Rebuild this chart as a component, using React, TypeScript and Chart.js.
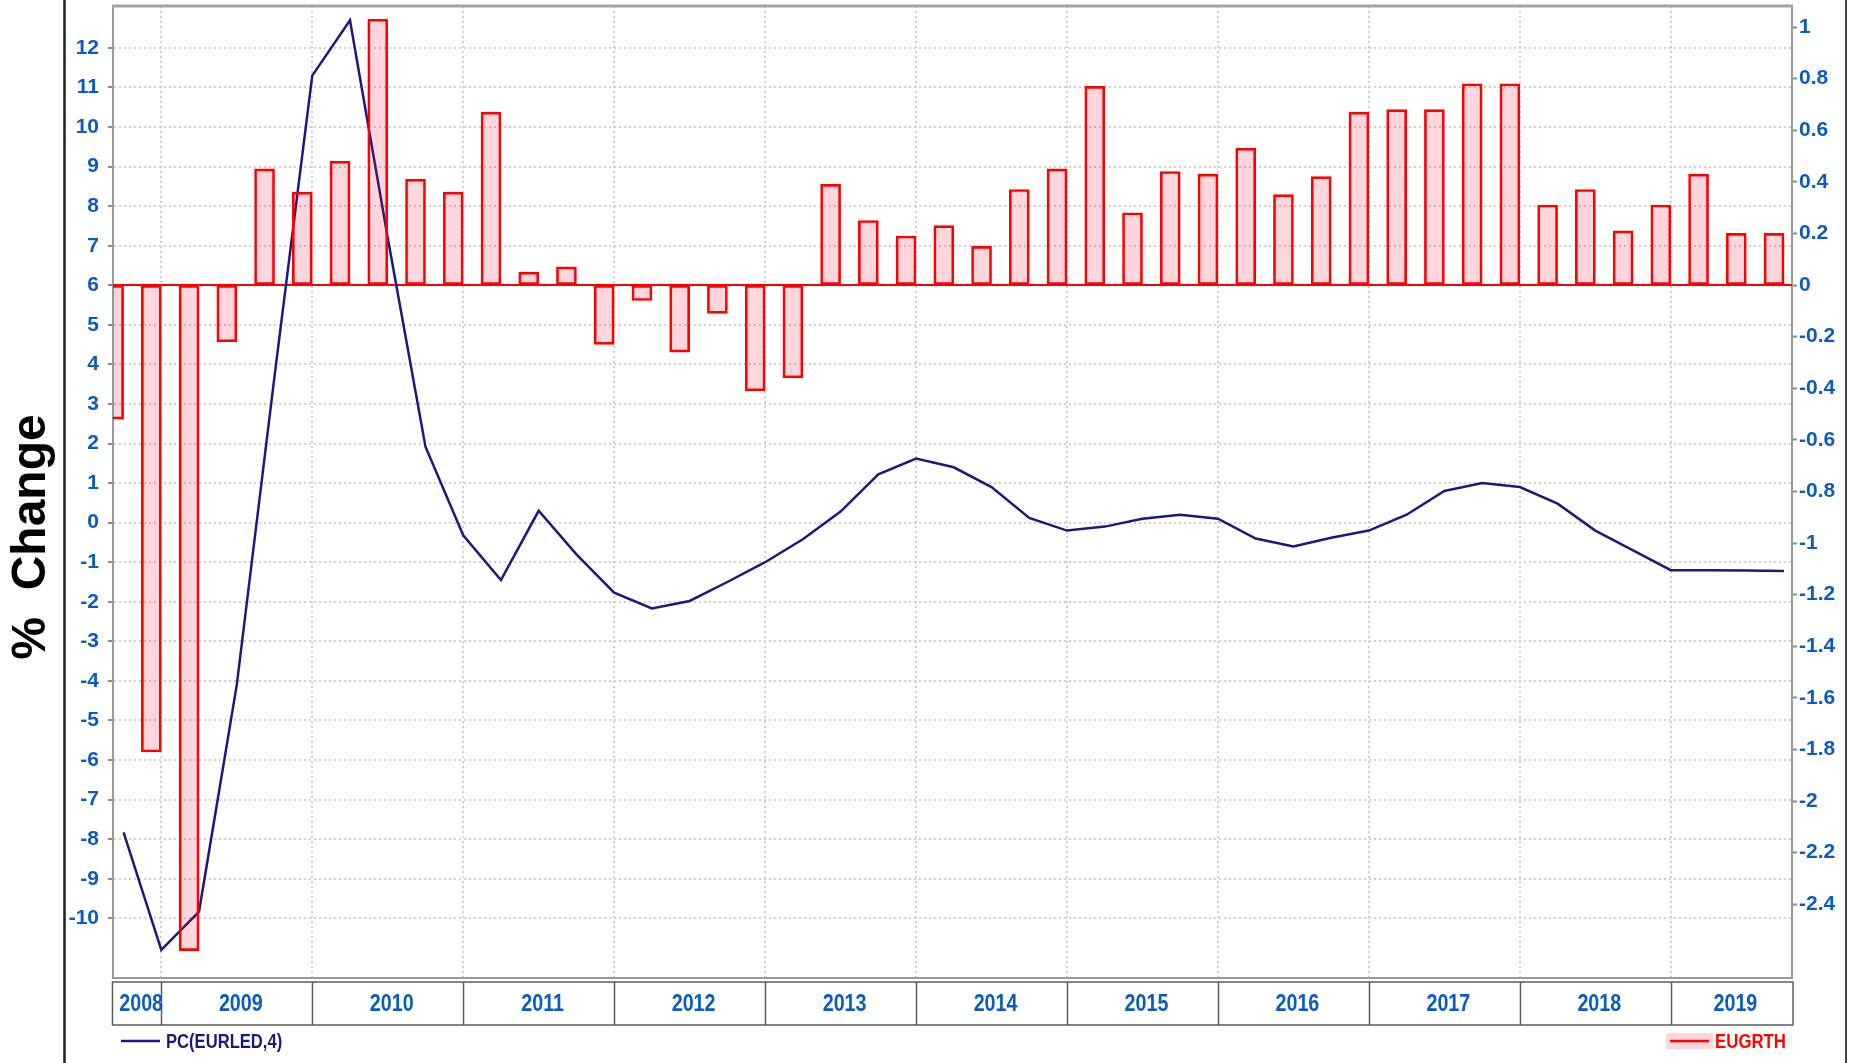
import React, { useEffect, useRef } from "react";
import { Chart, registerables } from "chart.js";

Chart.register(...registerables);

// ---------- data ----------
const quarters = [
  "2008 Q3", "2008 Q4",
  "2009 Q1", "2009 Q2", "2009 Q3", "2009 Q4",
  "2010 Q1", "2010 Q2", "2010 Q3", "2010 Q4",
  "2011 Q1", "2011 Q2", "2011 Q3", "2011 Q4",
  "2012 Q1", "2012 Q2", "2012 Q3", "2012 Q4",
  "2013 Q1", "2013 Q2", "2013 Q3", "2013 Q4",
  "2014 Q1", "2014 Q2", "2014 Q3", "2014 Q4",
  "2015 Q1", "2015 Q2", "2015 Q3", "2015 Q4",
  "2016 Q1", "2016 Q2", "2016 Q3", "2016 Q4",
  "2017 Q1", "2017 Q2", "2017 Q3", "2017 Q4",
  "2018 Q1", "2018 Q2", "2018 Q3", "2018 Q4",
  "2019 Q1", "2019 Q2", "2019 Q3",
];

// PC(EURLED,4) – left axis (% change)
const pcEurled = [
  -7.83, -10.8,
  -9.83, -4.1, 3.7, 11.3,
  12.7, 7.2, 1.92, -0.32,
  -1.45, 0.3, -0.8, -1.77,
  -2.17, -1.98, -1.5, -1.0,
  -0.42, 0.28, 1.22, 1.62,
  1.4, 0.9, 0.12, -0.2,
  -0.1, 0.1, 0.2, 0.1,
  -0.4, -0.6, -0.38, -0.2,
  0.2, 0.8, 1.0, 0.9,
  0.48, -0.2, -0.7, -1.2,
  -1.2, -1.21, -1.22,
];

// EUGRTH – right axis
const eugrth = [
  -0.52, -1.81,
  -2.58, -0.22, 0.45, 0.36,
  0.48, 1.03, 0.41, 0.36,
  0.67, 0.05, 0.07, -0.23,
  -0.06, -0.26, -0.11, -0.41,
  -0.36, 0.39, 0.25, 0.19,
  0.23, 0.15, 0.37, 0.45,
  0.77, 0.28, 0.44, 0.43,
  0.53, 0.35, 0.42, 0.67,
  0.68, 0.68, 0.78, 0.78,
  0.31, 0.37, 0.21, 0.31,
  0.43, 0.2, 0.2,
];

const leftTicks = [-10, -9, -8, -7, -6, -5, -4, -3, -2, -1, 0, 1, 2, 3, 4, 5, 6, 7, 8, 9, 10, 11, 12];
const rightTicks = [-2.4, -2.2, -2, -1.8, -1.6, -1.4, -1.2, -1, -0.8, -0.6, -0.4, -0.2, 0, 0.2, 0.4, 0.6, 0.8, 1];
const yearLabels = ["2008", "2009", "2010", "2011", "2012", "2013", "2014", "2015", "2016", "2017", "2018", "2019"];
const yearBoundaries = [2009, 2010, 2011, 2012, 2013, 2014, 2015, 2016, 2017, 2018, 2019];

const yTitle = "%  Change";

// ---------- styles / layout ----------
const W = 1854;
const H = 1063;
const X_MIN = 2008.68;
const X_MAX = 2019.803;
const Y_MIN = -11.51;
const Y_MAX = 13.06;
const Y1_MIN = -2.686;
const Y1_MAX = 1.0814;
const BAR_SHIFT = 0.066; // bars sit just left of their quarter-end date

const BLUE = "#0a5cc2";
const NAVY = "#1a1a7e";
const RED = "#ff0000";
const GRID = "#cfcfcf";
const AXIS = "#9a9a9a";
const SANS = '"Liberation Sans", Arial, sans-serif';

function quarterToDate(q: string): number {
  const [y, qq] = q.split(" Q");
  return Number(y) + Number(qq) / 4;
}

// draw text horizontally condensed (the original uses a narrow face)
function narrowText(ctx: any, text: string, x: number, y: number, sx: number, align: "left" | "center" | "right") {
  ctx.save();
  ctx.translate(x, y);
  ctx.scale(sx, 1);
  ctx.textAlign = align;
  ctx.fillText(text, 0, 0);
  ctx.restore();
}

const decorPlugin = {
  id: "decor",
  beforeDatasetsDraw(chart: any) {
    const { ctx, chartArea: a, scales } = chart;
    const y0 = scales.y1.getPixelForValue(0);
    ctx.save();
    ctx.strokeStyle = RED;
    ctx.lineWidth = 2;
    ctx.beginPath();
    ctx.moveTo(a.left, y0);
    ctx.lineTo(a.right, y0);
    ctx.stroke();
    ctx.restore();
  },
  afterDraw(chart: any) {
    const { ctx, chartArea: a, scales } = chart;
    const xs = scales.x;
    ctx.save();

    // top border of plot
    ctx.strokeStyle = "#a3a3a3";
    ctx.lineWidth = 3;
    ctx.beginPath();
    ctx.moveTo(a.left - 1, a.top);
    ctx.lineTo(a.right + 1, a.top);
    ctx.stroke();

    // year band
    const bandTop = a.bottom + 4;
    const bandBottom = a.bottom + 47;
    ctx.strokeStyle = "#5c5c5c";
    ctx.lineWidth = 1.5;
    ctx.strokeRect(a.left - 0.5, bandTop, a.right - a.left + 1.5, bandBottom - bandTop);
    ctx.beginPath();
    yearBoundaries.forEach((v) => {
      const px = Math.round(xs.getPixelForValue(v)) + 0.5;
      ctx.moveTo(px, bandTop);
      ctx.lineTo(px, bandBottom);
    });
    ctx.stroke();

    ctx.fillStyle = BLUE;
    ctx.font = `bold 24px ${SANS}`;
    ctx.textBaseline = "middle";
    yearLabels.forEach((lbl) => {
      const yv = Number(lbl);
      const l = Math.max(xs.getPixelForValue(yv), a.left);
      const r = Math.min(xs.getPixelForValue(yv + 1), a.right);
      narrowText(ctx, lbl, (l + r) / 2 + 4, (bandTop + bandBottom) / 2 + 1, 0.82, "center");
    });

    // legend
    const ds = chart.data.datasets;
    const lineDs = ds[1];
    const barDs = ds[0];
    const ly = a.bottom + 63;
    ctx.strokeStyle = lineDs.borderColor;
    ctx.lineWidth = 2.5;
    ctx.beginPath();
    ctx.moveTo(a.left + 8, ly);
    ctx.lineTo(a.left + 47, ly);
    ctx.stroke();
    ctx.fillStyle = lineDs.borderColor;
    ctx.font = `bold 20px ${SANS}`;
    narrowText(ctx, lineDs.label, a.left + 53, ly + 1, 0.83, "left");

    ctx.font = `bold 20px ${SANS}`;
    const sx = 0.84;
    const tw = ctx.measureText(barDs.label).width * sx;
    const tx = a.right - 6 - tw;
    ctx.fillStyle = "rgba(255, 0, 40, 0.16)";
    ctx.fillRect(tx - 49, ly - 8, 47, 16);
    ctx.strokeStyle = RED;
    ctx.lineWidth = 2.5;
    ctx.beginPath();
    ctx.moveTo(tx - 45, ly);
    ctx.lineTo(tx - 6, ly);
    ctx.stroke();
    ctx.fillStyle = RED;
    narrowText(ctx, barDs.label, tx, ly + 1, sx, "left");

    // outer frame lines
    ctx.strokeStyle = "#222";
    ctx.lineWidth = 2.5;
    ctx.beginPath();
    ctx.moveTo(64.5, 0);
    ctx.lineTo(64.5, H);
    ctx.stroke();
    ctx.strokeStyle = "#444";
    ctx.lineWidth = 2;
    ctx.beginPath();
    ctx.moveTo(1846, 0);
    ctx.lineTo(1846, H);
    ctx.stroke();

    // y title
    ctx.save();
    ctx.translate(45, 537);
    ctx.rotate(-Math.PI / 2);
    ctx.fillStyle = "#000";
    ctx.font = `bold 48px ${SANS}`;
    ctx.textAlign = "center";
    ctx.textBaseline = "alphabetic";
    ctx.fillText(yTitle, 0, 0);
    ctx.restore();

    ctx.restore();
  },
};

export default function App() {
  const ref = useRef<HTMLCanvasElement | null>(null);

  useEffect(() => {
    const canvas = ref.current;
    if (!canvas) return;
    const dates = quarters.map(quarterToDate);
    const lineData = dates.map((x, i) => ({ x, y: pcEurled[i] }));
    const barData = dates.map((x, i) => ({ x: x - BAR_SHIFT, y: eugrth[i] }));

    const tickFont = { family: SANS, size: 21, weight: "bold" as const };

    const chart = new Chart(canvas, {
      type: "bar",
      data: {
        datasets: [
          {
            type: "bar",
            label: "EUGRTH",
            data: barData as any,
            xAxisID: "x",
            yAxisID: "y1",
            backgroundColor: "rgba(255, 0, 40, 0.16)",
            borderColor: RED,
            borderWidth: 2,
            borderSkipped: false,
            barThickness: 20,
            clip: 0,
            order: 0,
          } as any,
          {
            type: "line",
            label: "PC(EURLED,4)",
            data: lineData as any,
            xAxisID: "x",
            yAxisID: "y",
            borderColor: NAVY,
            borderWidth: 2.5,
            pointRadius: 0,
            tension: 0,
            fill: false,
            order: 1,
          } as any,
        ],
      },
      options: {
        responsive: false,
        animation: false,
        devicePixelRatio: 1,
        layout: { padding: { top: 6, left: 0, right: 0, bottom: 0 } },
        plugins: {
          legend: { display: false },
          tooltip: { enabled: false },
        },
        scales: {
          x: {
            type: "linear",
            position: "bottom",
            min: X_MIN,
            max: X_MAX,
            offset: false,
            afterBuildTicks: (s: any) => {
              s.ticks = yearBoundaries.map((v) => ({ value: v }));
            },
            ticks: { display: false },
            grid: { color: GRID, lineWidth: 2, drawTicks: false, offset: false },
            border: { display: true, color: AXIS, width: 2, dash: [2, 3] },
            afterFit: (s: any) => {
              s.height = H - 978;
              s.paddingLeft = 0;
              s.paddingRight = 0;
            },
          } as any,
          y: {
            type: "linear",
            position: "left",
            min: Y_MIN,
            max: Y_MAX,
            afterBuildTicks: (s: any) => {
              s.ticks = leftTicks.map((v) => ({ value: v }));
            },
            ticks: {
              color: BLUE,
              font: tickFont,
              padding: 9,
              autoSkip: false,
              callback: (v: any) => String(v),
            },
            grid: { color: GRID, lineWidth: 2, tickLength: 5, tickColor: "#8a8a8a", tickWidth: 2 },
            border: { display: true, color: AXIS, width: 2, dash: [2, 3] },
            afterFit: (s: any) => {
              s.width = 113;
              s.paddingTop = 0;
              s.paddingBottom = 0;
            },
          } as any,
          y1: {
            type: "linear",
            position: "right",
            min: Y1_MIN,
            max: Y1_MAX,
            afterBuildTicks: (s: any) => {
              s.ticks = rightTicks.map((v) => ({ value: v }));
            },
            ticks: {
              color: BLUE,
              font: tickFont,
              padding: 2,
              autoSkip: false,
              callback: (v: any) => String(Math.round(Number(v) * 10) / 10),
            },
            grid: { drawOnChartArea: false, tickLength: 5, tickColor: "#8a8a8a", tickWidth: 2 },
            border: { display: true, color: AXIS, width: 2 },
            afterFit: (s: any) => {
              s.width = W - 1792;
              s.paddingTop = 0;
              s.paddingBottom = 0;
            },
          } as any,
        },
      },
      plugins: [decorPlugin],
    });

    return () => chart.destroy();
  }, []);

  return (
    <div style={{ position: "fixed", left: 0, top: 0, width: W, height: H, background: "#fff" }}>
      <canvas ref={ref} width={W} height={H} style={{ display: "block", width: W, height: H }} />
    </div>
  );
}
